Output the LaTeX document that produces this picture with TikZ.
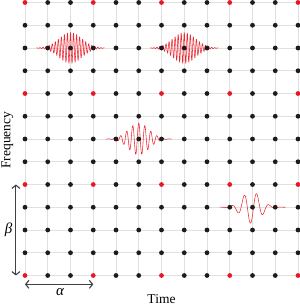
\documentclass[tikz,border=0pt]{standalone}
\usepackage{fontspec}
\setmainfont{Liberation Serif}
\usetikzlibrary{arrows.meta}
\definecolor{dotred}{RGB}{232,24,34}
\definecolor{dotblack}{RGB}{28,28,28}
\definecolor{wavered}{RGB}{236,40,50}
\begin{document}
\begin{tikzpicture}[x=0.8cm,y=0.8cm,
  gridline/.style={black!12, line width=0.9pt},
  dot/.style={circle, inner sep=0pt, minimum size=4.8pt},
  wave/.style={wavered, line width=0.55pt, line join=round},
  dim/.style={black!75, line width=1.1pt, {Straight Barb[length=3.2pt,width=8pt]}-{Straight Barb[length=3.2pt,width=8pt]}},
  lbl/.style={font=\fontsize{13.5}{16}\selectfont, inner sep=0pt}
]
\useasboundingbox (-1.099,-1.341) rectangle (12.088,12.110);
% grid
\foreach \k in {0,...,12} {
  \draw[gridline] (\k,0) -- (\k,12.11);
  \draw[gridline] (0,\k) -- (12,\k);
}
% wave packets
\draw[wave] plot[domain=-1.5:1.5, samples=700, smooth] ({2+\x}, {10+0.68*exp(-(\x*\x)/0.5)*cos(\x*47 r)});
\draw[wave] plot[domain=-1.5:1.5, samples=700, smooth] ({7+\x}, {10+0.68*exp(-(\x*\x)/0.5)*cos(\x*47 r)});
\draw[wave] plot[domain=-1.45:1.45, samples=400, smooth] ({5+\x}, {6+0.7*exp(-(\x*\x)/0.4)*cos(\x*23.7 r)});
\draw[wave] plot[domain=-1.45:1.45, samples=300, smooth] ({10+\x}, {3-0.7*exp(-((\x+0.05)*(\x+0.05))/0.32)*cos((\x+0.09)*11.5 r)});
% dots
\foreach \i in {0,...,12} {
  \foreach \j in {0,...,12} {
    \pgfmathtruncatemacro\ri{mod(\i,3)}
    \pgfmathtruncatemacro\rj{mod(\j,4)}
    \ifnum\ri=0 \ifnum\rj=0 \def\dcol{dotred}\else\def\dcol{dotblack}\fi\else\def\dcol{dotblack}\fi
    \node[dot, fill=\dcol] (d-\i-\j) at (\i,\j) {};
  }
}
% dimension arrows
\coordinate (bA) at (-0.4,0);
\coordinate (bB) at (-0.4,4);
\coordinate (aA) at (0,-0.39);
\coordinate (aB) at (3,-0.39);
\draw[dim] (bA) -- (bB);
\draw[dim] (aA) -- (aB);
\node[lbl] (beta) at (-0.72,2) {\fontsize{15}{17}\selectfont\itshape β};
\node[lbl] (alpha) at (1.54,-0.72) {\fontsize{15}{17}\selectfont\itshape α};
% axis labels
\node[lbl, rotate=90] (freq) at (-0.77,5.95) {Frequency};
\node[lbl] (time) at (6,-1.03) {Time};
\end{tikzpicture}
\end{document}
